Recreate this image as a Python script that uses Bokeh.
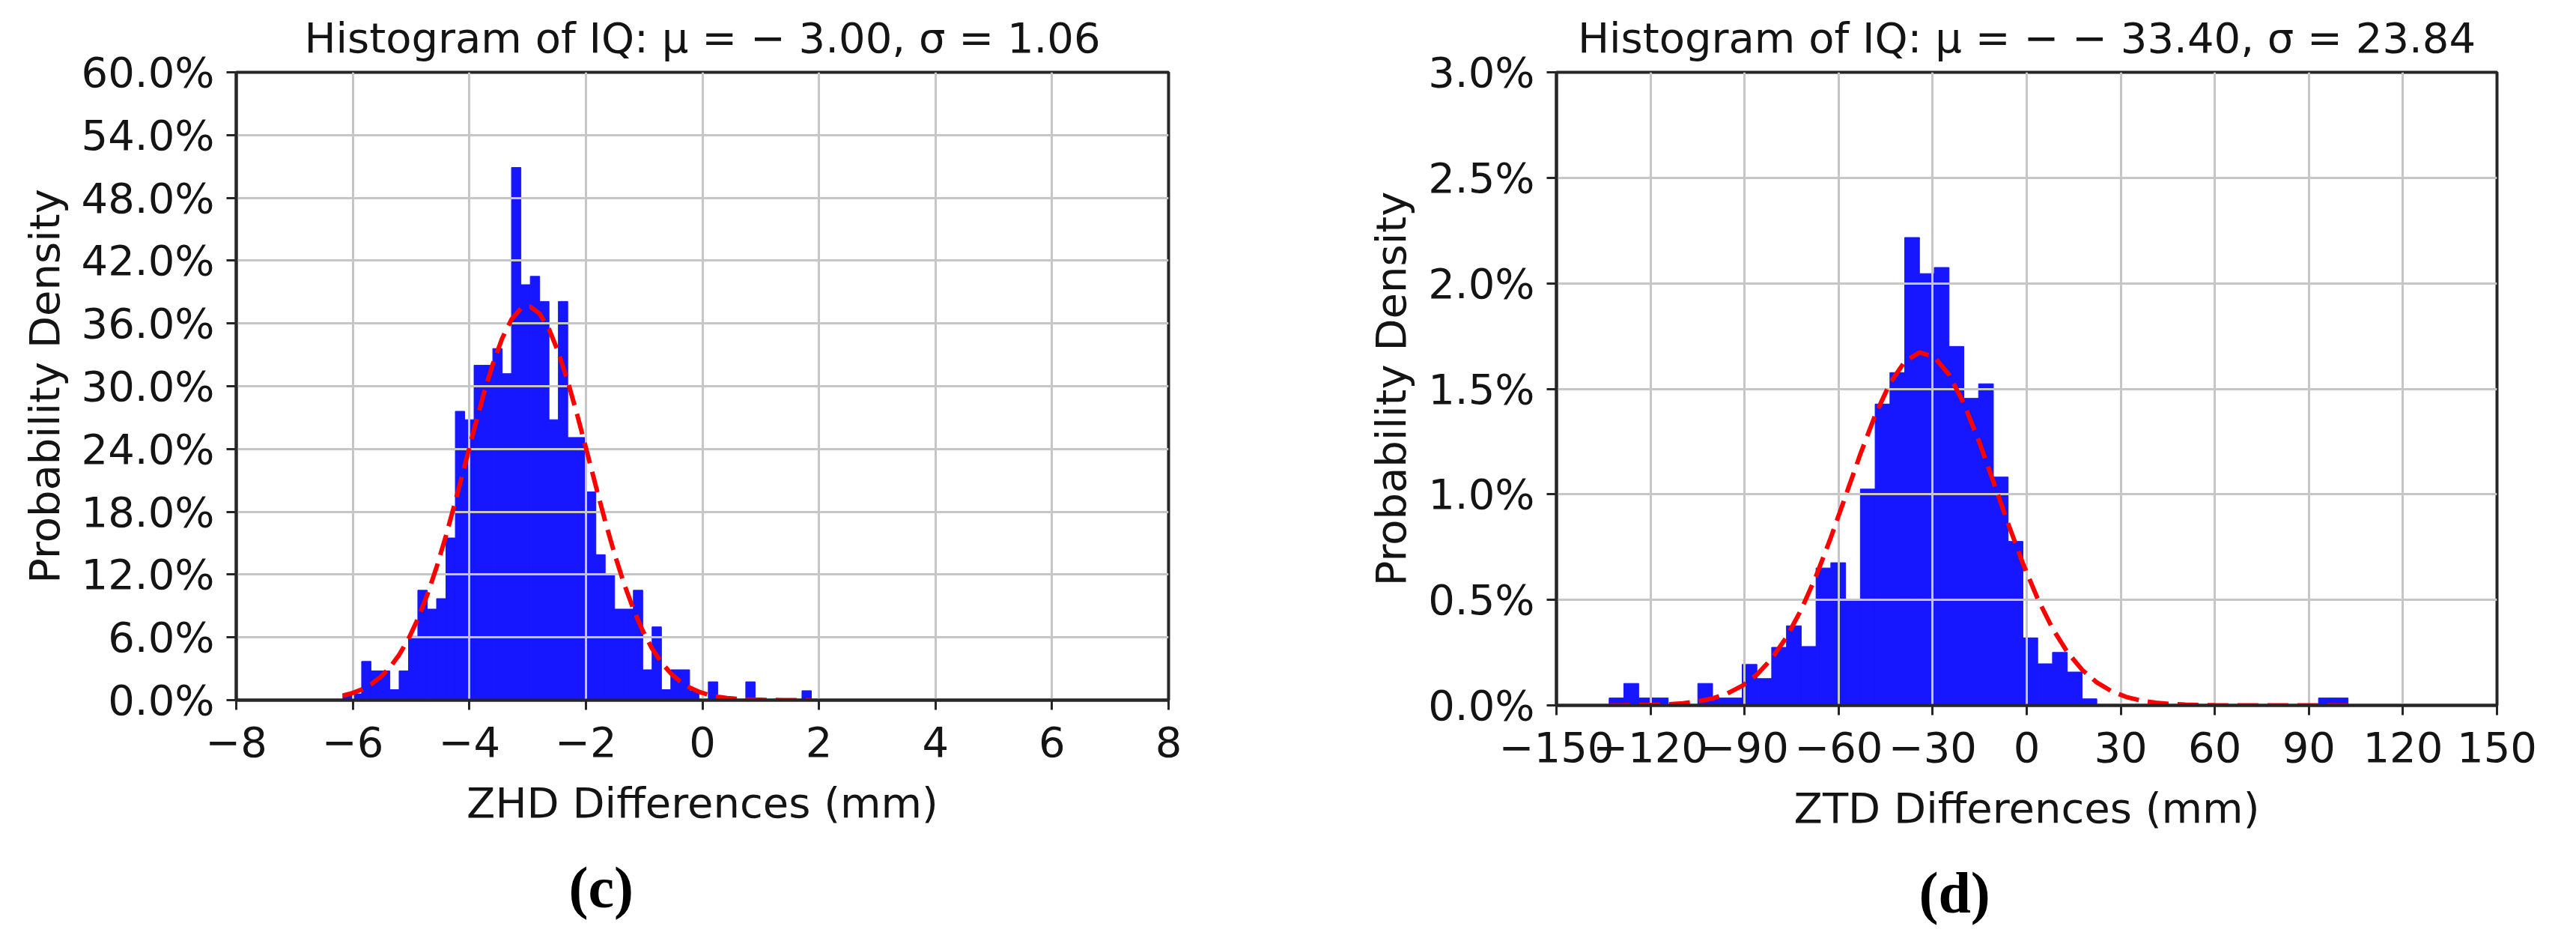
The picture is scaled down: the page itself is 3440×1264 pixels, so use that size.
from bokeh.plotting import figure
from bokeh.layouts import row
from bokeh.models import Range1d, FixedTicker, Title, CustomJSTickFormatter
from bokeh.embed import file_html
from bokeh.resources import INLINE

# ---------------- data ----------------
zhd_title = "Histogram of IQ: μ = − 3.00, σ = 1.06"
zhd_xlabel = "ZHD Differences (mm)"
zhd_tag = "(c)"
zhd_bin_edges = [-6.170, -6.009, -5.848, -5.688, -5.527, -5.366, -5.205, -5.044, -4.884, -4.723,
                 -4.562, -4.401, -4.240, -4.080, -3.919, -3.758, -3.597, -3.436, -3.276, -3.115,
                 -2.954, -2.793, -2.632, -2.472, -2.311, -2.150, -1.989, -1.828, -1.668, -1.507,
                 -1.346, -1.185, -1.024, -0.864, -0.703, -0.542, -0.381, -0.220, -0.060, 0.101,
                 0.262, 0.423, 0.584, 0.744, 0.905, 1.066, 1.227, 1.388, 1.548, 1.709, 1.870]
zhd_density_pct = [0.6, 0.6, 3.7, 2.8, 2.8, 1.0, 2.8, 6.1, 10.5, 8.7,
                   9.7, 15.5, 27.6, 26.8, 32.0, 32.0, 33.6, 31.2, 50.9, 39.7,
                   40.5, 38.1, 26.8, 38.1, 25.1, 25.1, 19.9, 13.9, 12.1, 8.7,
                   8.7, 10.5, 2.9, 7.0, 1.0, 2.9, 2.9, 0.9, 0.0, 1.75,
                   0.0, 0.0, 0.0, 1.75, 0.0, 0.0, 0.0, 0.0, 0.0, 0.9]
zhd_fit_pct = [0.430, 0.669, 1.018, 1.512, 2.196, 3.117, 4.324, 5.859, 7.761, 10.047,
               12.709, 15.711, 18.979, 22.407, 25.852, 29.149, 32.116, 34.583, 36.389, 37.420,
               37.605, 36.930, 35.443, 33.242, 30.468, 27.292, 23.889, 20.435, 17.083, 13.955,
               11.141, 8.693, 6.627, 4.937, 3.596, 2.559, 1.779, 1.209, 0.803, 0.521,
               0.330, 0.205, 0.124, 0.073, 0.042, 0.024, 0.013, 0.007, 0.004, 0.002, 0.001]
zhd_xticks = [-8, -6, -4, -2, 0, 2, 4, 6, 8]
zhd_yticks = [0, 6, 12, 18, 24, 30, 36, 42, 48, 54, 60]

ztd_title = "Histogram of IQ: μ = − − 33.40, σ = 23.84"
ztd_xlabel = "ZTD Differences (mm)"
ztd_tag = "(d)"
ztd_bin_edges = [-133.20, -128.49, -123.77, -119.06, -114.34, -109.63, -104.92, -100.20, -95.49, -90.77,
                 -86.06, -81.35, -76.63, -71.92, -67.20, -62.49, -57.78, -53.06, -48.35, -43.63,
                 -38.92, -34.21, -29.49, -24.78, -20.06, -15.35, -10.64, -5.92, -1.21, 3.51,
                 8.22, 12.93, 17.65, 22.36, 27.08, 31.79, 36.50, 41.22, 45.93, 50.65,
                 55.36, 60.07, 64.79, 69.50, 74.22, 78.93, 83.64, 88.36, 93.07, 97.79, 102.50]
ztd_density_pct = [0.035, 0.104, 0.035, 0.035, 0.0, 0.0, 0.104, 0.035, 0.035, 0.194,
                   0.127, 0.275, 0.377, 0.279, 0.651, 0.676, 0.500, 1.025, 1.428, 1.577,
                   2.217, 2.046, 2.075, 1.701, 1.455, 1.524, 1.082, 0.777, 0.320, 0.197,
                   0.251, 0.158, 0.031, 0.0, 0.0, 0.0, 0.0, 0.0, 0.0, 0.0,
                   0.0, 0.0, 0.0, 0.0, 0.0, 0.0, 0.0, 0.0, 0.035, 0.035]
ztd_fit_pct = [0.0003, 0.0006, 0.0013, 0.0026, 0.0053, 0.0101, 0.0186, 0.0330, 0.0563, 0.0925,
               0.1460, 0.2215, 0.3232, 0.4537, 0.6124, 0.7949, 0.9922, 1.1910, 1.3749, 1.5262,
               1.6292, 1.6724, 1.6511, 1.5674, 1.4310, 1.2564, 1.0607, 0.8611, 0.6724, 0.5048,
               0.3645, 0.2531, 0.1690, 0.1085, 0.0670, 0.0398, 0.0227, 0.0125, 0.0066, 0.0033,
               0.0016, 0.0008, 0.0003, 0.0002, 0.0001, 0.0, 0.0, 0.0, 0.0, 0.0, 0.0]
ztd_xticks = [-150, -120, -90, -60, -30, 0, 30, 60, 90, 120, 150]
ztd_yticks = [0, 0.5, 1.0, 1.5, 2.0, 2.5, 3.0]

# ---------------- style ----------------
FONT = "DejaVu Sans"
TXT = "#141414"
SPINE = "#262626"
BAR = "#1616ff"
FIT = "#ff0000"
GRID = "#c6c6c6"
FS = "56px"

XFMT = CustomJSTickFormatter(code="return (tick < 0 ? '\u2212' : '') + Math.abs(tick).toFixed(0);")
YFMT = CustomJSTickFormatter(code="return tick.toFixed(1) + '%';")


def panel(edges, dens, fit, xticks, yticks, title, xlabel, tag, geom):
    p = figure(output_backend="svg", toolbar_location=None,
               frame_width=geom["fw"], frame_height=geom["fh"],
               min_border_left=geom["bl"], min_border_right=geom["br"],
               min_border_top=geom["bt"], min_border_bottom=geom["bb"],
               x_range=Range1d(xticks[0], xticks[-1]),
               y_range=Range1d(yticks[0], yticks[-1]),
               title=title)
    p.background_fill_color = "white"
    p.border_fill_color = "white"
    p.outline_line_color = SPINE
    p.outline_line_width = 4

    p.title.text_font = FONT
    p.title.text_font_size = FS
    p.title.text_font_style = "normal"
    p.title.text_color = TXT
    p.title.align = "center"
    p.title.standoff = 27

    p.quad(left=edges[:-1], right=edges[1:], bottom=0, top=dens,
           fill_color=BAR, line_color=BAR, line_width=1, level="image")
    p.line(edges, fit, line_color=FIT, line_width=6, line_dash="28 12")

    for ax, ticks, fmt in ((p.xaxis[0], xticks, XFMT), (p.yaxis[0], yticks, YFMT)):
        ax.ticker = FixedTicker(ticks=ticks)
        ax.formatter = fmt
        ax.axis_line_color = SPINE
        ax.axis_line_width = 4
        ax.major_tick_line_color = SPINE
        ax.major_tick_line_width = 3
        ax.major_tick_out = 13
        ax.major_tick_in = 0
        ax.minor_tick_out = 0
        ax.minor_tick_in = 0
        ax.major_label_text_font = FONT
        ax.major_label_text_font_size = FS
        ax.major_label_text_color = TXT
        ax.axis_label_text_font = FONT
        ax.axis_label_text_font_size = FS
        ax.axis_label_text_font_style = "normal"
        ax.axis_label_text_color = TXT
    p.xaxis.major_label_standoff = 22
    p.yaxis.major_label_standoff = 16
    p.xaxis.axis_label = xlabel
    p.xaxis.axis_label_standoff = 26
    p.yaxis.axis_label = "Probability Density"
    p.yaxis.axis_label_standoff = 14

    p.xgrid.ticker = FixedTicker(ticks=xticks)
    p.ygrid.ticker = FixedTicker(ticks=yticks)
    for g in (p.xgrid[0], p.ygrid[0]):
        g.grid_line_color = GRID
        g.grid_line_width = 3

    p.add_layout(Title(text=tag, align="left", offset=geom["tagoff"], standoff=geom["tagstand"],
                       text_font="Liberation Serif", text_font_size="78px",
                       text_font_style="bold", text_color="#000000"), "below")
    return p


p1 = panel(zhd_bin_edges, zhd_density_pct, zhd_fit_pct, zhd_xticks, zhd_yticks,
           zhd_title, zhd_xlabel, zhd_tag,
           dict(fw=1245, fh=838, bl=315, br=160, bt=96, bb=306, tagoff=444, tagstand=64))
p2 = panel(ztd_bin_edges, ztd_density_pct, ztd_fit_pct, ztd_xticks, ztd_yticks,
           ztd_title, ztd_xlabel, ztd_tag,
           dict(fw=1256, fh=845, bl=358, br=90, bt=90, bb=305, tagoff=484, tagstand=64))

layout = row(p1, p2)
open("out.html", "w").write(file_html(layout, INLINE))
